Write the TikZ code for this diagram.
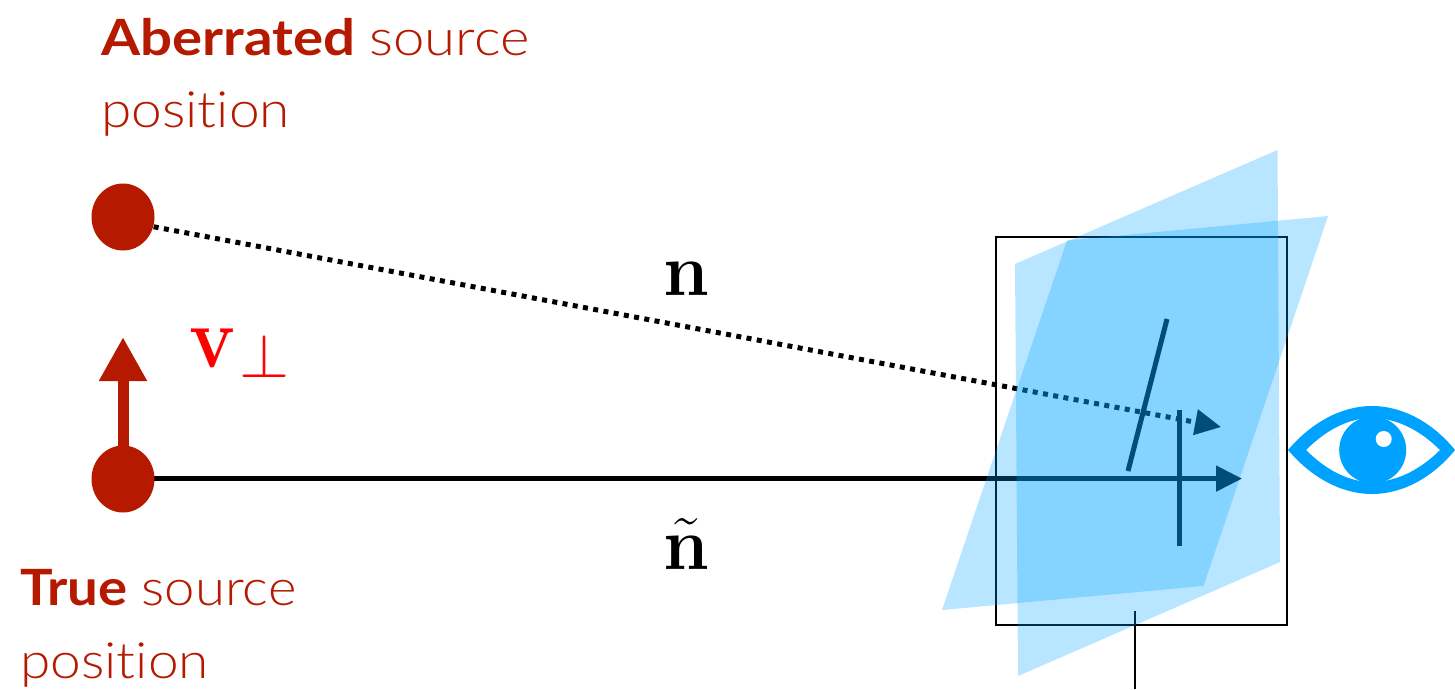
\documentclass[tikz,border=0pt]{standalone}
\usepackage[no-math]{fontspec}
\usepackage{amsmath}
\setmainfont[Ligatures=NoCommon]{Lato}
\newfontfamily\lightf[Ligatures=NoCommon]{Lato Light}
\usetikzlibrary{arrows.meta,shapes.geometric}
\definecolor{srcred}{HTML}{B51A00}
\definecolor{skyblue}{HTML}{00A2FF}
\tikzset{
  srcdot/.style={ellipse,fill=srcred,draw=none,minimum width=63pt,minimum height=67pt,inner sep=0pt},
  plane/.style={fill=skyblue,fill opacity=0.28,draw=none},
  ray/.style={line width=5pt,black,-{Triangle[length=26pt,width=25pt]}},
  tickline/.style={line width=5pt,black},
  lbl/.style={anchor=base west,inner sep=0pt,text=srcred,font=\fontsize{50}{50}\selectfont},
  mathlbl/.style={anchor=base,inner sep=0pt},
}
\begin{document}
\begin{tikzpicture}[x=1pt,y=-1pt]
\useasboundingbox (0,0) rectangle (1455,689);
% named points
\coordinate (abC) at (123,221);
\coordinate (trC) at (123,478.6);
\coordinate (tipA) at (1221,427);
\coordinate (tipB) at (1242,478.6);
\coordinate (tipV) at (123,337);
\coordinate (t1a) at (1167,319);
\coordinate (t1b) at (1128,471);
\coordinate (t2a) at (1179,410);
\coordinate (t2b) at (1179,546);
\coordinate (stemA) at (1135,611);
\coordinate (stemB) at (1135,689);
% black elements lie under the translucent planes
\node[draw=black,line width=2pt,minimum width=291pt,minimum height=388pt,inner sep=0pt] (frame) at (1141,431) {};
\draw[black,line width=2pt] (stemA) -- (stemB);
\draw[ray,dash pattern=on 5pt off 5.4pt] (abC) -- (tipA);
\draw[ray] (trC) -- (tipB);
\draw[tickline] (t1a) -- (t1b);
\draw[tickline] (t2a) -- (t2b);
% planes
\fill[plane] (1015,264) -- (1277.5,150) -- (1280,562) -- (1018,676) -- cycle;
\fill[plane] (942,610) -- (1067,240.5) -- (1328,216) -- (1203.5,586) -- cycle;
% velocity arrow and source dots
\draw[srcred,line width=11pt,-{Triangle[length=44pt,width=45pt]}] (trC) -- (tipV);
\node[srcdot] (ab) at (123,217) {};
\node[srcdot] (tr) at (123,479) {};
% eye
\fill[skyblue,even odd rule]
  (1288,450) .. controls (1310,424) and (1340,406) .. (1372,406)
  .. controls (1404,406) and (1434,424) .. (1455,450)
  .. controls (1434,476) and (1404,494) .. (1372,494)
  .. controls (1340,494) and (1310,476) .. (1288,450) -- cycle
  (1306,450) .. controls (1322,434) and (1345,418) .. (1372,418)
  .. controls (1400,418) and (1424,434) .. (1440,450)
  .. controls (1424,466) and (1400,482) .. (1372,482)
  .. controls (1345,482) and (1322,466) .. (1306,450) -- cycle;
\fill[skyblue] (1372.7,450) circle (33.5);
\fill[white] (1383.7,439) circle (8);
% labels
\node[lbl] (l1) at (101,55) {\scalebox{1.127}[1]{\textbf{Aberrated} {\lightf source}}};
\node[lbl] (l2) at (101,127) {\scalebox{1.10}[1]{\lightf position}};
\node[lbl] (l3) at (20,605) {\scalebox{1.09}[1]{\textbf{True} {\lightf source}}};
\node[lbl] (l4) at (20,678) {\scalebox{1.10}[1]{\lightf position}};
\node[mathlbl] (nA) at (686,295) {\scalebox{2.95}[3.0]{\fontsize{24.88}{30}\selectfont$\mathbf{n}$}};
\node[mathlbl] (nB) at (686,569) {\scalebox{2.95}[3.0]{\fontsize{24.88}{30}\selectfont$\tilde{\mathbf{n}}$}};
\node[anchor=base west,inner sep=0pt,text=red] (vp) at (189,367) {\fontsize{24.88}{30}\selectfont\scalebox{3.1}[3.5]{$\mathbf{v}$}\hspace{3pt}\raisebox{-10pt}{\scalebox{3.1}[3.0]{$\scriptstyle\perp$}}};
\end{tikzpicture}
\end{document}
